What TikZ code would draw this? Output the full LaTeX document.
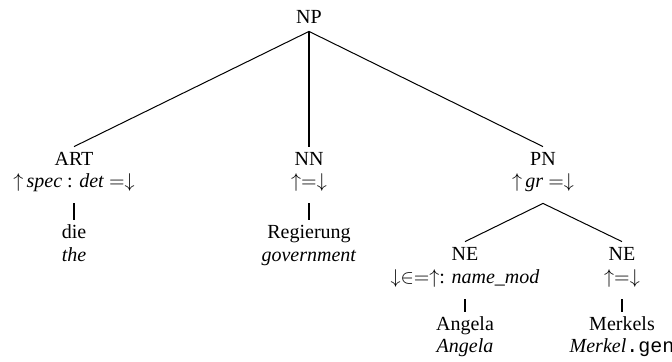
\documentclass[tikz,border=0pt]{standalone}
\usepackage{fontspec}
\setmainfont{Liberation Serif}
\setmonofont{Liberation Mono}
\begin{document}
\begin{tikzpicture}[x=0.5pt, y=-0.5pt,
    every node/.style={inner sep=2pt, text height=7pt, text depth=2pt},
    feat/.style={inner ysep=6pt},
    branch/.style={line width=0.5pt},
    head/.style={line width=0.9pt},
    bar/.style={line width=1.3pt}]
  \useasboundingbox (0,0) rectangle (672,361);
  % Root
  \node (NP) at (309,18) {NP};

  % Daughters of NP
  \node (ART) at (74,160) {ART};
  \node[feat] (ARTf) at (74,182) {$\uparrow$\,\textit{spec} : \textit{det} $=\downarrow$};
  \node (die) at (74,233) {die};
  \node (the) at (74,256) {\textit{the}};

  \node (NN) at (309,160) {NN};
  \node[feat] (NNf) at (309,182) {$\uparrow=\downarrow$};
  \node (Regierung) at (309,233) {Regierung};
  \node (government) at (309,256) {\textit{government}};

  \node (PN) at (543,160) {PN};
  \node[feat] (PNf) at (543,182) {$\uparrow$\,\textit{gr} $=\downarrow$};

  % Daughters of PN
  \node (NEa) at (465,255) {NE};
  \node[feat] (NEaf) at (465,278) {$\downarrow\in=\uparrow$: \textit{name\_mod}};
  \node (Angela) at (465,325) {Angela};
  \node (Angelag) at (465,347) {\textit{Angela}};

  \node (NEb) at (622,255) {NE};
  \node[feat] (NEbf) at (622,278) {$\uparrow=\downarrow$};
  \node (Merkels) at (622,325) {Merkels};
  \node (Merkelsg) at (622,347) {\textit{Merkel}\texttt{.gen}};

  \draw[branch] (NP.south) -- (ART.north);
  \draw[head] (NP.south) -- (NN.north);
  \draw[branch] (NP.south) -- (PN.north);
  \draw[branch] (PNf.south) -- (NEa.north);
  \draw[branch] (PNf.south) -- (NEb.north);

  % Lexical bars
  \draw[bar] (ARTf.south) -- (die.north);
  \draw[bar] (NNf.south) -- (Regierung.north);
  \draw[bar] (NEaf.south) -- (Angela.north);
  \draw[bar] (NEbf.south) -- (Merkels.north);
\end{tikzpicture}
\end{document}
